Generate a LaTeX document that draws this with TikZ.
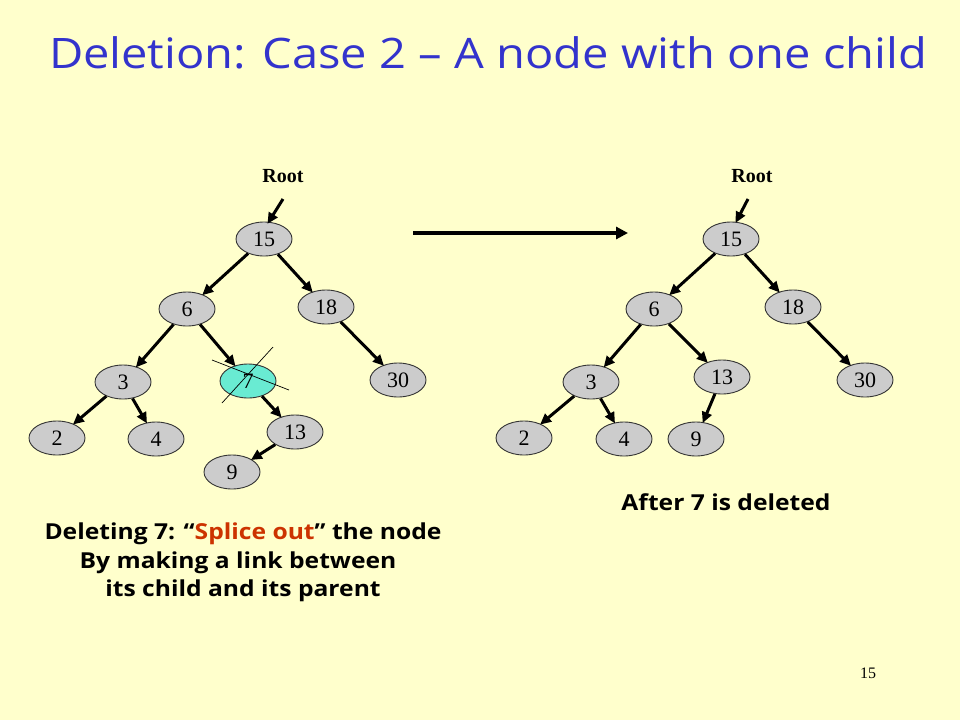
\documentclass[tikz,border=0pt]{standalone}
\usepackage{fontspec}
\setmainfont{Liberation Serif}
\newfontfamily\comic[FakeStretch=1.12]{Open Sans}
\usetikzlibrary{shapes.geometric,arrows.meta}
\definecolor{bg}{RGB}{255,255,204}
\definecolor{nodegray}{RGB}{204,204,204}
\definecolor{cyanfill}{RGB}{105,235,210}
\definecolor{titleblue}{RGB}{51,51,204}
\definecolor{splice}{RGB}{204,51,0}
\begin{document}
\begin{tikzpicture}[x=1pt,y=-1pt,
  tn/.style={ellipse,draw=black!80,line width=0.9pt,fill=nodegray,minimum width=56pt,minimum height=34pt,inner sep=0pt,font=\fontsize{22}{22}\selectfont},
  link/.style={line width=3pt,-{Triangle[length=11pt,width=10pt]},shorten >=-1pt},
  rootlbl/.style={font=\fontsize{20}{20}\selectfont\bfseries},
  body/.style={font=\comic\bfseries\fontsize{22}{26}\selectfont}]
\fill[bg] (0,0) rectangle (960,720);
\useasboundingbox (0,0) rectangle (960,720);
\node[text=titleblue,font=\comic\fontsize{42}{42}\selectfont,anchor=center] (title) at (488,53) {Deletion: Case 2 – A node with one child};
% left tree
\node[rootlbl] (rootL) at (283,176) {Root};
\node[tn] (L15) at (264,239) {15};
\node[tn] (L6) at (187,309) {6};
\node[tn] (L18) at (326,307) {18};
\node[tn] (L3) at (123,382) {3};
\node[tn,fill=cyanfill] (L7) at (248,381) {7};
\node[tn] (L30) at (398,380) {30};
\node[tn] (L2) at (57,438) {2};
\node[tn] (L4) at (156,439) {4};
\node[tn] (L13) at (295,432) {13};
\node[tn] (L9) at (232,472) {9};
\coordinate (rLs) at (283,199);
\coordinate (rLe) at (268,223);
\draw[link] (rLs) -- (rLe);
\draw[link] (L15) -- (L6);
\draw[link] (L15) -- (L18);
\draw[link] (L6) -- (L3);
\draw[link] (L6) -- (L7);
\draw[link] (L18) -- (L30);
\draw[link] (L3) -- (L2);
\draw[link] (L3) -- (L4);
\draw[link] (L7) -- (L13);
\draw[link] (L13) -- (L9);
\coordinate (c1a) at (212,360);
\coordinate (c1b) at (289,390);
\coordinate (c2a) at (222,403);
\coordinate (c2b) at (273,347);
\draw[line width=0.7pt] (c1a) -- (c1b);
\draw[line width=0.7pt] (c2a) -- (c2b);
% big arrow
\coordinate (bigs) at (413,233);
\coordinate (bige) at (628,233);
\draw[line width=4pt,-{Triangle[length=12pt,width=12pt]}] (bigs) -- (bige);
% right tree
\node[rootlbl] (rootR) at (752,176) {Root};
\node[tn] (R15) at (731,239) {15};
\node[tn] (R6) at (654,309) {6};
\node[tn] (R18) at (793,307) {18};
\node[tn] (R3) at (591,382) {3};
\node[tn] (R13) at (722,377) {13};
\node[tn] (R30) at (865,380) {30};
\node[tn] (R2) at (524,438) {2};
\node[tn] (R4) at (624,439) {4};
\node[tn] (R9) at (696,439) {9};
\coordinate (rRs) at (748,199);
\coordinate (rRe) at (736,222);
\draw[link] (rRs) -- (rRe);
\draw[link] (R15) -- (R6);
\draw[link] (R15) -- (R18);
\draw[link] (R6) -- (R3);
\draw[link] (R6) -- (R13);
\draw[link] (R18) -- (R30);
\draw[link] (R3) -- (R2);
\draw[link] (R3) -- (R4);
\draw[link] (R13) -- (R9);
% texts
\node[body] (after) at (726,502) {After 7 is deleted};
\node[body] (del1) at (243,534) {Deleting 7: “\textcolor{splice}{Splice out}” the node};
\node[body] (del2) at (238,563) {By making a link between};
\node[body] (del3) at (243,591) {its child and its parent};
\node[font=\fontsize{16}{16}\selectfont] (pg) at (868,673) {15};
\end{tikzpicture}
\end{document}
